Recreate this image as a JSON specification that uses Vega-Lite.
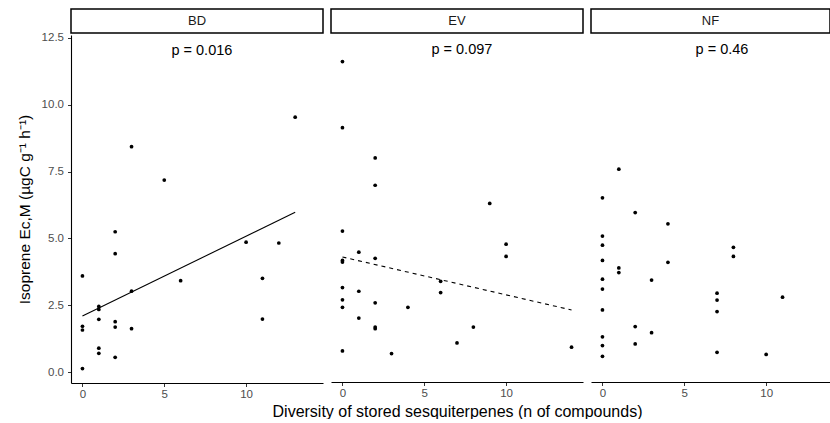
{
  "$schema": "https://vega.github.io/schema/vega-lite/v6.json",
  "padding": {"left": 17, "top": 8, "right": 0, "bottom": 0},
  "background": "white",
  "spacing": -52,
  "align": "none",
  "datasets": {
    "pts": [
      {"panel": "BD", "n": 3, "e": 8.43}, {"panel": "BD", "n": 5, "e": 7.18}, {"panel": "BD", "n": 13, "e": 9.53},
      {"panel": "BD", "n": 2, "e": 5.25}, {"panel": "BD", "n": 2, "e": 4.43}, {"panel": "BD", "n": 0, "e": 3.6},
      {"panel": "BD", "n": 3, "e": 3.03}, {"panel": "BD", "n": 6, "e": 3.42}, {"panel": "BD", "n": 10, "e": 4.86},
      {"panel": "BD", "n": 12, "e": 4.83}, {"panel": "BD", "n": 11, "e": 3.51}, {"panel": "BD", "n": 11, "e": 1.99},
      {"panel": "BD", "n": 1, "e": 2.46}, {"panel": "BD", "n": 1, "e": 2.35}, {"panel": "BD", "n": 1, "e": 1.98},
      {"panel": "BD", "n": 2, "e": 1.89}, {"panel": "BD", "n": 2, "e": 1.69}, {"panel": "BD", "n": 3, "e": 1.63},
      {"panel": "BD", "n": 0, "e": 1.72}, {"panel": "BD", "n": 0, "e": 1.58}, {"panel": "BD", "n": 1, "e": 0.9},
      {"panel": "BD", "n": 1, "e": 0.71}, {"panel": "BD", "n": 2, "e": 0.56}, {"panel": "BD", "n": 0, "e": 0.14},
      {"panel": "EV", "n": 0, "e": 11.57}, {"panel": "EV", "n": 0, "e": 9.1}, {"panel": "EV", "n": 2, "e": 7.97},
      {"panel": "EV", "n": 2, "e": 6.95}, {"panel": "EV", "n": 9, "e": 6.27}, {"panel": "EV", "n": 0, "e": 5.24},
      {"panel": "EV", "n": 10, "e": 4.75}, {"panel": "EV", "n": 10, "e": 4.29}, {"panel": "EV", "n": 1, "e": 4.45},
      {"panel": "EV", "n": 2, "e": 4.22}, {"panel": "EV", "n": 0, "e": 4.14}, {"panel": "EV", "n": 0, "e": 4.08},
      {"panel": "EV", "n": 0, "e": 3.13}, {"panel": "EV", "n": 1, "e": 2.99}, {"panel": "EV", "n": 6, "e": 3.36},
      {"panel": "EV", "n": 6, "e": 2.94}, {"panel": "EV", "n": 0, "e": 2.67}, {"panel": "EV", "n": 0, "e": 2.39},
      {"panel": "EV", "n": 2, "e": 2.56}, {"panel": "EV", "n": 4, "e": 2.39}, {"panel": "EV", "n": 1, "e": 1.99},
      {"panel": "EV", "n": 2, "e": 1.65}, {"panel": "EV", "n": 2, "e": 1.59}, {"panel": "EV", "n": 8, "e": 1.65},
      {"panel": "EV", "n": 7, "e": 1.06}, {"panel": "EV", "n": 0, "e": 0.76}, {"panel": "EV", "n": 3, "e": 0.66},
      {"panel": "EV", "n": 14, "e": 0.9},
      {"panel": "NF", "n": 1, "e": 7.55}, {"panel": "NF", "n": 0, "e": 6.48}, {"panel": "NF", "n": 2, "e": 5.93},
      {"panel": "NF", "n": 4, "e": 5.51}, {"panel": "NF", "n": 0, "e": 5.05}, {"panel": "NF", "n": 0, "e": 4.71},
      {"panel": "NF", "n": 8, "e": 4.63}, {"panel": "NF", "n": 8, "e": 4.29}, {"panel": "NF", "n": 0, "e": 4.14},
      {"panel": "NF", "n": 4, "e": 4.07}, {"panel": "NF", "n": 1, "e": 3.86}, {"panel": "NF", "n": 1, "e": 3.69},
      {"panel": "NF", "n": 0, "e": 3.44}, {"panel": "NF", "n": 3, "e": 3.41}, {"panel": "NF", "n": 0, "e": 3.07},
      {"panel": "NF", "n": 7, "e": 2.92}, {"panel": "NF", "n": 11, "e": 2.77}, {"panel": "NF", "n": 7, "e": 2.66},
      {"panel": "NF", "n": 0, "e": 2.29}, {"panel": "NF", "n": 7, "e": 2.23}, {"panel": "NF", "n": 2, "e": 1.67},
      {"panel": "NF", "n": 3, "e": 1.44}, {"panel": "NF", "n": 0, "e": 1.29}, {"panel": "NF", "n": 2, "e": 1.02},
      {"panel": "NF", "n": 0, "e": 0.96}, {"panel": "NF", "n": 7, "e": 0.71}, {"panel": "NF", "n": 10, "e": 0.63},
      {"panel": "NF", "n": 0, "e": 0.56}
    ],
    "fit": [
      {"panel": "BD", "n": 0, "e": 2.1}, {"panel": "BD", "n": 13, "e": 5.98},
      {"panel": "EV", "n": 0, "e": 4.27}, {"panel": "EV", "n": 14, "e": 2.29}
    ]
  },
  "config": {
    "font": "Liberation Sans",
    "view": {"stroke": null},
    "axis": {
      "grid": false,
      "domainColor": "black",
      "domainWidth": 1.1,
      "tickColor": "#333333",
      "tickSize": 3.5,
      "labelColor": "#4D4D4D",
      "labelFontSize": 11.5,
      "labelPadding": 2,
      "titleFontSize": 15.5,
      "titleFontWeight": "normal",
      "titleColor": "black"
    }
  },
  "hconcat": [
    {
      "spacing": -3,
      "vconcat": [
        {
          "width": 252, "height": 24,
          "view": {"stroke": "black", "strokeWidth": 1.5, "fill": "white"},
          "data": {"values": [{"label": "BD"}]},
          "mark": {"type": "text", "fontSize": 13, "color": "#1A1A1A"},
          "encoding": {"text": {"field": "label"}}
        },
        {
          "width": 252, "height": 348,
          "layer": [
            {
              "data": {"name": "pts"},
              "transform": [{"filter": "datum.panel === 'BD'"}],
              "mark": {"type": "circle", "size": 14, "color": "black", "opacity": 1},
              "encoding": {
                "x": {"field": "n", "type": "quantitative", "scale": {"domain": [-0.7, 14.7], "nice": false, "zero": false},
                      "axis": {"values": [0, 5, 10], "title": null}},
                "y": {"field": "e", "type": "quantitative", "scale": {"domain": [-0.4, 12.6], "nice": false, "zero": false},
                      "axis": {"values": [0, 2.5, 5, 7.5, 10, 12.5], "format": ".1f", "labelPadding": 4, "title": "Isoprene Ec,M (µgC g⁻¹ h⁻¹)", "titlePadding": 9}}
              }
            },
            {
              "data": {"name": "fit"},
              "transform": [{"filter": "datum.panel === 'BD'"}],
              "mark": {"type": "line", "color": "black", "strokeWidth": 1.1},
              "encoding": {"x": {"field": "n", "type": "quantitative"}, "y": {"field": "e", "type": "quantitative"}}
            },
            {
              "data": {"values": [{"p": "p = 0.016"}]},
              "mark": {"type": "text", "fontSize": 14.5, "color": "black"},
              "encoding": {"x": {"datum": 7.3, "type": "quantitative"}, "y": {"datum": 12.0, "type": "quantitative"}, "text": {"field": "p"}}
            }
          ]
        }
      ]
    },
    {
      "spacing": 0,
      "vconcat": [
        {
          "width": 252, "height": 24,
          "view": {"stroke": "black", "strokeWidth": 1.5, "fill": "white"},
          "data": {"values": [{"label": "EV"}]},
          "mark": {"type": "text", "fontSize": 13, "color": "#1A1A1A"},
          "encoding": {"text": {"field": "label"}}
        },
        {
          "width": 252, "height": 348,
          "layer": [
            {
              "data": {"name": "pts"},
              "transform": [{"filter": "datum.panel === 'EV'"}],
              "mark": {"type": "circle", "size": 14, "color": "black", "opacity": 1},
              "encoding": {
                "x": {"field": "n", "type": "quantitative", "scale": {"domain": [-0.7, 14.7], "nice": false, "zero": false},
                      "axis": {"values": [0, 5, 10], "title": "Diversity of stored sesquiterpenes (n of compounds)", "titleFontSize": 16, "titlePadding": 4}},
                "y": {"field": "e", "type": "quantitative", "scale": {"domain": [-0.4, 12.6], "nice": false, "zero": false}, "axis": null}
              }
            },
            {
              "data": {"name": "fit"},
              "transform": [{"filter": "datum.panel === 'EV'"}],
              "mark": {"type": "line", "color": "black", "strokeWidth": 1.1, "strokeDash": [4, 4]},
              "encoding": {"x": {"field": "n", "type": "quantitative"}, "y": {"field": "e", "type": "quantitative"}}
            },
            {
              "data": {"values": [{"p": "p = 0.097"}]},
              "mark": {"type": "text", "fontSize": 14.5, "color": "black"},
              "encoding": {"x": {"datum": 7.3, "type": "quantitative"}, "y": {"datum": 12.0, "type": "quantitative"}, "text": {"field": "p"}}
            }
          ]
        }
      ]
    },
    {
      "spacing": 0,
      "vconcat": [
        {
          "width": 239, "height": 24,
          "view": {"stroke": "black", "strokeWidth": 1.5, "fill": "white"},
          "data": {"values": [{"label": "NF"}]},
          "mark": {"type": "text", "fontSize": 13, "color": "#1A1A1A"},
          "encoding": {"text": {"field": "label"}}
        },
        {
          "width": 239, "height": 348,
          "layer": [
            {
              "data": {"name": "pts"},
              "transform": [{"filter": "datum.panel === 'NF'"}],
              "mark": {"type": "circle", "size": 14, "color": "black", "opacity": 1},
              "encoding": {
                "x": {"field": "n", "type": "quantitative", "scale": {"domain": [-0.7, 13.9], "nice": false, "zero": false},
                      "axis": {"values": [0, 5, 10], "title": null}},
                "y": {"field": "e", "type": "quantitative", "scale": {"domain": [-0.4, 12.6], "nice": false, "zero": false}, "axis": null}
              }
            },
            {
              "data": {"values": [{"p": "p = 0.46"}]},
              "mark": {"type": "text", "fontSize": 14.5, "color": "black"},
              "encoding": {"x": {"datum": 7.3, "type": "quantitative"}, "y": {"datum": 12.0, "type": "quantitative"}, "text": {"field": "p"}}
            }
          ]
        }
      ]
    }
  ]
}
